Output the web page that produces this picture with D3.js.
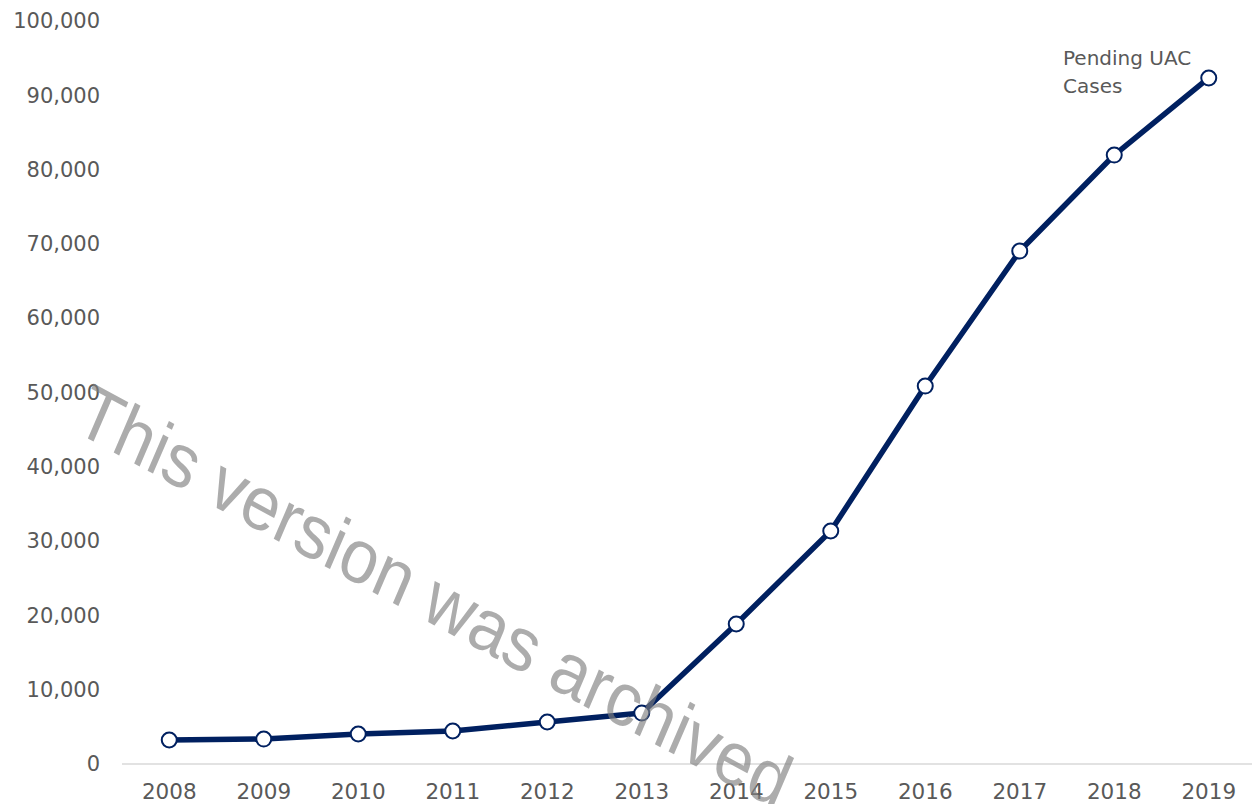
<!DOCTYPE html>
<html>
<head>
<meta charset="utf-8">
<script src="https://cdn.jsdelivr.net/npm/d3@7"></script>
<style>
  html, body { margin: 0; padding: 0; background: #ffffff; }
  svg { display: block; }
</style>
</head>
<body>
<svg id="chart" width="1252" height="804"></svg>
<script>
const years = ["2008","2009","2010","2011","2012","2013","2014","2015","2016","2017","2018","2019"];
const pendingCases = [3230, 3360, 4040, 4440, 5650, 6860, 18840, 31360, 50870, 69040, 81960, 92330];
const yTicks = [0, 10000, 20000, 30000, 40000, 50000, 60000, 70000, 80000, 90000, 100000];
const seriesLabel = ["Pending UAC", "Cases"];
const watermark = "This version was archived";

const svg = d3.select("#chart");
const W = 1252, H = 804;
const font = "'DejaVu Sans', sans-serif";
const textColor = "#595959";
const navy = "#002060";

const x = d3.scaleBand().domain(years).range([122, 1256]).padding(0);
const y = d3.scaleLinear().domain([0, 100000]).range([764, 21]);
const cx = d => x(d) + x.bandwidth() / 2;

// Y axis
const yAxis = d3.axisLeft(y).tickValues(yTicks).tickSize(0).tickPadding(22).tickFormat(d3.format(","));
const gy = svg.append("g").attr("transform", "translate(122,0)").call(yAxis);
gy.select(".domain").remove();
gy.selectAll("text").attr("font-family", font).attr("font-size", 21).attr("fill", textColor);

// X axis
const xAxis = d3.axisBottom(x).tickSize(0).tickPadding(20);
const gx = svg.append("g").attr("transform", "translate(0,764)").call(xAxis);
gx.select(".domain").attr("d", "M0,0H" + (W - 122)).attr("transform", "translate(122,0)")
  .attr("stroke", "#d9d9d9").attr("stroke-width", 1.5);
gx.selectAll("text").attr("font-family", font).attr("font-size", 21.5).attr("fill", textColor);

// Line
const data = years.map((yr, i) => ({ year: yr, value: pendingCases[i] }));
const line = d3.line().x(d => cx(d.year)).y(d => y(d.value));
svg.append("path").datum(data).attr("d", line)
  .attr("fill", "none").attr("stroke", navy).attr("stroke-width", 5.5)
  .attr("stroke-linejoin", "round");

svg.append("g").selectAll("circle").data(data).join("circle")
  .attr("cx", d => cx(d.year)).attr("cy", d => y(d.value)).attr("r", 7.5)
  .attr("fill", "#ffffff").attr("stroke", navy).attr("stroke-width", 2);

// Series label
const lbl = svg.append("text").attr("font-family", font).attr("font-size", 20).attr("fill", textColor);
seriesLabel.forEach((s, i) => {
  lbl.append("tspan").attr("x", 1063).attr("y", 65 + i * 28).text(s);
});

// Watermark
svg.append("text")
  .attr("transform", "translate(72,430) scale(1,1.12) rotate(25.7)")
  .attr("font-family", "'Liberation Sans', Arial, sans-serif")
  .attr("font-size", 68)
  .attr("fill", "#808080")
  .attr("fill-opacity", 0.65)
  .text(watermark);
</script>
</body>
</html>
